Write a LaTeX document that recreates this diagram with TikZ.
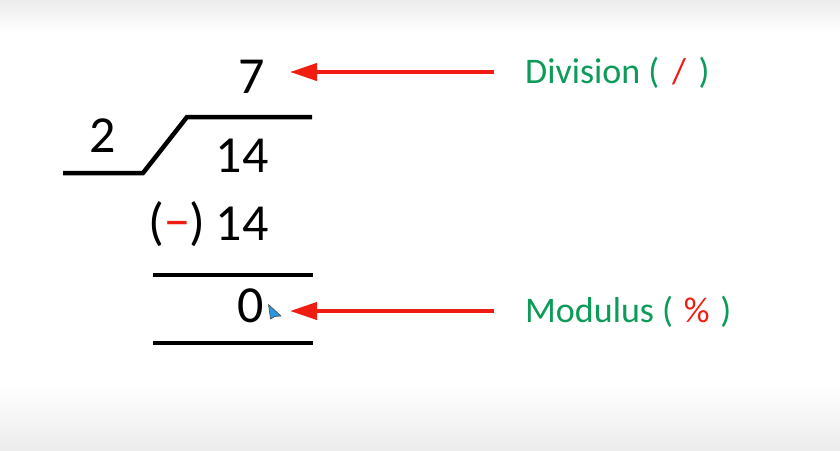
\documentclass[tikz,border=0pt]{standalone}
\usepackage{fontspec}
\setmainfont{Carlito}
\usetikzlibrary{arrows.meta}
\definecolor{txtgreen}{RGB}{12,155,88}
\definecolor{arrred}{RGB}{240,30,18}
\definecolor{bgedge}{RGB}{236,236,236}
\definecolor{cursorblue}{RGB}{45,150,220}
\tikzset{
  digit/.style={anchor=base,inner sep=0pt,font=\fontsize{52}{60}\selectfont,text=black},
  lbl/.style={anchor=base west,inner sep=0pt,font=\fontsize{36}{42}\selectfont,text=txtgreen},
  rule/.style={line width=4.5pt,black},
  redarrow/.style={line width=4pt,arrred,-{Triangle[length=27pt,width=17pt]}}
}
\begin{document}
\begin{tikzpicture}[x=1pt,y=-1pt]
\useasboundingbox (0,0) rectangle (840,450);
\fill[white] (0,0) rectangle (840,450);
\shade[top color=bgedge,bottom color=white] (0,0) rectangle (840,32);
\shade[top color=white,bottom color=bgedge] (0,385) rectangle (840,450);
% division frame
\draw[rule,line join=miter] (63,173) -- (143,173) -- (187,117) -- (312,117);
\draw[rule] (153,275) -- (313,275);
\draw[rule] (153,343) -- (313,343);
% numbers
\node[digit] (q) at (252,93) {7};
\node[digit] (d) at (103,152) {2};
\node[digit] (n) at (242,172) {14};
\node[digit] (sub) at (177,239) {(\textcolor{arrred}{−})};
\node[digit] (n2) at (242,240) {14};
\node[digit] (r) at (251,322) {0};
% labels
\node[lbl] (divl) at (525,83) {Division (\hspace{0.35em}\textcolor{arrred}{/}\hspace{0.35em})};
\node[lbl] (modl) at (525,322) {Modulus (\hspace{0.3em}\textcolor{arrred}{\%}\hspace{0.3em})};
% arrows
\coordinate (t1) at (494,72);
\coordinate (h1) at (290,72);
\coordinate (t2) at (494,311);
\coordinate (h2) at (290,311);
\draw[redarrow] (t1) -- (h1);
\draw[redarrow] (t2) -- (h2);
% mouse cursor
\filldraw[fill=cursorblue,draw=black!70,line width=0.6pt,line join=round]
  (268.5,304.5) -- (281,316) -- (275,316.5) -- (270.5,319) -- cycle;
\end{tikzpicture}
\end{document}
